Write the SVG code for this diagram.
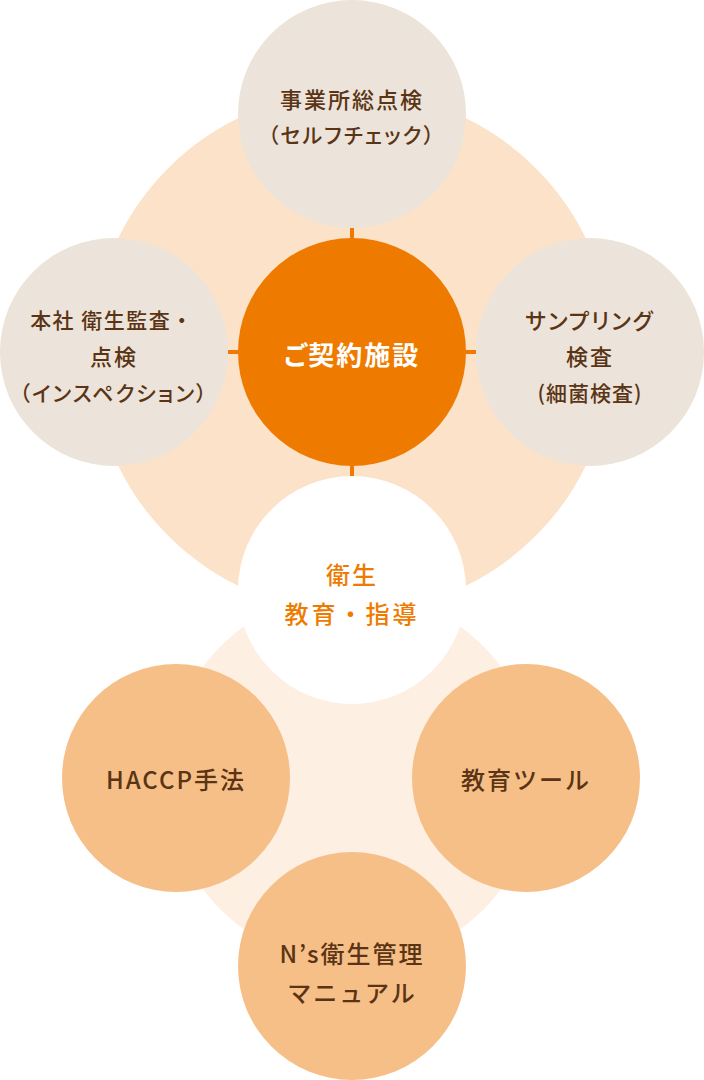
<svg xmlns="http://www.w3.org/2000/svg" width="704" height="1080" viewBox="0 0 704 1080">
<style>
.t{font-family:"Noto Sans CJK JP","Noto Sans",sans-serif;font-weight:500;font-size:22px;fill:#5A3414;text-anchor:middle;dominant-baseline:central;letter-spacing:2px;font-feature-settings:"palt"}
.np{font-feature-settings:normal}
.big{font-size:24px;letter-spacing:2px}
.c{fill:#EE7B00}
.g{fill:#ECE3DA}
.o{fill:#F6BF87}
.w{fill:#FFFFFF}
.tick{stroke:#EE7B00;stroke-width:4}
</style>
<g id="backgrounds">
<circle cx="352" cy="352" r="260" fill="#FBE2C8"/>
<circle cx="352" cy="778" r="186" fill="#FDEFE2"/>
</g>
<g id="connectors">
<line class="tick" x1="352" y1="226" x2="352" y2="240"/>
<line class="tick" x1="352" y1="464" x2="352" y2="478"/>
<line class="tick" x1="226" y1="352" x2="240" y2="352"/>
<line class="tick" x1="464" y1="352" x2="478" y2="352"/>
</g>
<g id="node-top">
<circle class="g" cx="352" cy="114" r="114"/>
<text class="t" x="352" y="98">事業所総点検</text>
<text class="t" x="352" y="134" style="font-size:21px">（セルフチェック）</text>
</g>
<g id="node-left">
<circle class="g" cx="114" cy="352" r="114"/>
<text class="t np" x="112" y="319" style="font-size:21px;letter-spacing:1.5px">本社 衛生監査・</text>
<text class="t" x="114" y="355">点検</text>
<text class="t" x="114" y="392" style="font-size:21px">（インスペクション）</text>
</g>
<g id="node-right">
<circle class="g" cx="590" cy="352" r="114"/>
<text class="t" x="590" y="319">サンプリング</text>
<text class="t" x="590" y="355">検査</text>
<text class="t" x="590" y="392" style="font-size:21px;letter-spacing:1px">(細菌検査)</text>
</g>
<g id="node-center">
<circle class="c" cx="352" cy="352" r="114"/>
<text class="t" x="352" y="353" style="fill:#FFFFFF;font-size:26px;font-weight:700">ご契約施設</text>
</g>
<g id="node-education">
<circle class="w" cx="352" cy="590" r="114"/>
<text class="t np big" x="352" y="573" style="fill:#EE7B00">衛生</text>
<text class="t np big" x="352" y="612" style="fill:#EE7B00;letter-spacing:3px">教育・指導</text>
</g>
<g id="node-haccp">
<circle class="o" cx="176" cy="778" r="114"/>
<text class="t np big" x="176" y="778">HACCP手法</text>
</g>
<g id="node-tools">
<circle class="o" cx="526" cy="778" r="114"/>
<text class="t np big" x="526" y="778">教育ツール</text>
</g>
<g id="node-manual">
<circle class="o" cx="352" cy="966" r="114"/>
<text class="t np big" x="352" y="952">N’s衛生管理</text>
<text class="t np big" x="352" y="991">マニュアル</text>
</g>
</svg>
